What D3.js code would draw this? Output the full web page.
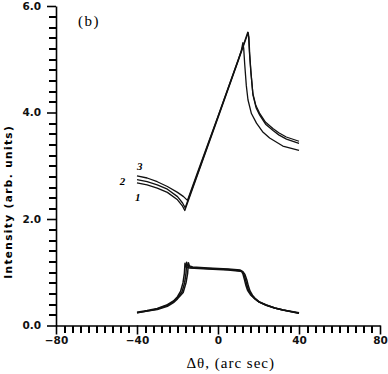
<!DOCTYPE html>
<html>
<head>
<meta charset="utf-8">
<script src="https://cdn.jsdelivr.net/npm/d3@7"></script>
<style>
  body { margin: 0; background: #fff; }
  svg { display: block; }
</style>
</head>
<body>
<div id="chart"></div>
<script>
// datos (b)
const xTicks = [-80, -40, 0, 40, 80];
const yTicks = [0, 2, 4, 6];
const xMinor = [-76, -72, -68, -64, -60, -56, -52, -48, -44, -36, -32, -28, -24, -20, -16, -12, -8, -4,
  4, 8, 12, 16, 20, 24, 28, 32, 36, 44, 48, 52, 56, 60, 64, 68, 72, 76];
const yMinor = [0.2, 0.4, 0.6, 0.8, 1.0, 1.2, 1.4, 1.6, 1.8, 2.2, 2.4, 2.6, 2.8, 3.0, 3.2, 3.4, 3.6, 3.8,
  4.2, 4.4, 4.6, 4.8, 5.0, 5.2, 5.4, 5.6, 5.8];

// curvas de arriba (1, 2, 3)
const top1X = [-40, -35, -30, -25, -20, -17.5, -16.4, -10, 0, 10, 14.9, 15.3, 15.65, 16.3, 17.3, 18.8, 20.6, 23.5, 27.2, 30, 33.8, 40];
const top1Y = [2.68, 2.64, 2.58, 2.50, 2.36, 2.24, 2.16, 2.84, 3.90, 4.97, 5.50, 5.40, 5.10, 4.74, 4.32, 4.09, 3.95, 3.78, 3.66, 3.58, 3.50, 3.42];
const top2X = [-40, -35, -30, -25, -20, -17.5, -16.2, -10, 0, 10, 14.7, 15.1, 15.5, 16.2, 17.2, 18.7, 20.5, 23.4, 27.1, 30, 33.7, 40];
const top2Y = [2.74, 2.70, 2.64, 2.56, 2.42, 2.30, 2.21, 2.86, 3.92, 4.99, 5.51, 5.42, 5.14, 4.78, 4.36, 4.13, 3.99, 3.82, 3.70, 3.62, 3.54, 3.46];
const top3X = [-40, -35, -30, -25, -20, -17, -15.1, -10, 0, 10, 11.5, 12.3, 12.7, 13.2, 14, 14.8, 16.5, 19, 22, 25.5, 32, 40];
const top3Y = [2.81, 2.77, 2.70, 2.61, 2.50, 2.42, 2.35, 2.89, 3.93, 4.99, 5.16, 5.31, 5.20, 4.90, 4.50, 4.24, 3.98, 3.80, 3.64, 3.52, 3.37, 3.29];

// curvas de abajo
const lowAX = [-40, -35, -30, -25, -22, -20, -18.5, -17.3, -16.6, -16.3, -15.8, -14, -5, 5, 11, 12.3, 13.3, 14.2, 15, 15.8, 17, 18.3, 20.5, 23.9, 28, 32.1, 40];
const lowAY = [0.25, 0.28, 0.32, 0.39, 0.46, 0.54, 0.64, 0.80, 0.98, 1.17, 1.10, 1.08, 1.06, 1.04, 1.02, 1.01, 0.96, 0.86, 0.74, 0.65, 0.57, 0.51, 0.44, 0.38, 0.33, 0.29, 0.23];
const lowBX = [-40, -35, -30, -25, -22, -20, -17.8, -16.5, -15.8, -15.5, -15.0, -13.5, -5, 5, 11, 11.9, 12.8, 13.6, 14.4, 15.2, 16.5, 18, 20.3, 23.8, 28, 32.1, 40];
const lowBY = [0.24, 0.27, 0.31, 0.38, 0.45, 0.52, 0.63, 0.80, 0.98, 1.19, 1.12, 1.09, 1.07, 1.05, 1.03, 1.02, 0.96, 0.86, 0.74, 0.65, 0.57, 0.51, 0.44, 0.38, 0.33, 0.29, 0.23];
const lowCX = [-40, -35, -30, -25, -22, -20, -17.2, -15.8, -15.0, -14.6, -14.1, -12.5, -5, 5, 11, 11.5, 12.3, 13.0, 13.8, 14.6, 16.0, 17.6, 20, 23.6, 28, 32.1, 40];
const lowCY = [0.24, 0.27, 0.30, 0.36, 0.43, 0.50, 0.62, 0.80, 0.98, 1.18, 1.12, 1.10, 1.08, 1.06, 1.04, 1.03, 0.97, 0.87, 0.75, 0.66, 0.58, 0.52, 0.45, 0.39, 0.33, 0.29, 0.24];

const curveLabels = ["1", "2", "3"];
const labelX = [-39.6, -47.2, -38.7];
const labelY = [2.33, 2.64, 2.92];

const WidthCaja = 388, HeightCaja = 374;
const margin = { top: 6, right: 8, bottom: 48.5, left: 56 };
const width = WidthCaja - margin.left - margin.right,
  height = HeightCaja - margin.top - margin.bottom;

const svg = d3.select("#chart").append("svg")
  .attr("width", WidthCaja)
  .attr("height", HeightCaja)
  .append("g")
  .attr("transform", "translate(" + margin.left + "," + margin.top + ")");

const x = d3.scaleLinear().domain([-80, 80]).range([0, width]);
const y = d3.scaleLinear().domain([0, 6]).range([height, 0]);

const fmt = d3.format(".1f");
svg.append("g")
  .attr("class", "mayor")
  .attr("transform", "translate(0," + height + ")")
  .call(d3.axisBottom(x).tickValues(xTicks).tickSize(9).tickSizeOuter(0).tickPadding(2));
svg.append("g")
  .attr("class", "mayor")
  .call(d3.axisLeft(y).tickValues(yTicks).tickSize(9).tickSizeOuter(0).tickPadding(6).tickFormat(fmt));

svg.selectAll(".mayor .tick line").attr("stroke", "#000").attr("stroke-width", 1.6);
svg.selectAll(".mayor .domain").attr("stroke", "#000").attr("stroke-width", 1.6);
svg.selectAll(".mayor .tick text")
  .attr("fill", "#111")
  .style("font-family", "'DejaVu Sans', sans-serif")
  .style("font-weight", "bold")
  .style("font-size", "10.5px");

// ticks menores encima de todo
svg.append("g")
  .attr("class", "menor")
  .attr("transform", "translate(0," + height + ")")
  .call(d3.axisBottom(x).tickValues(xMinor).tickSize(7).tickSizeOuter(0).tickFormat(() => ""))
  .call(g => g.select(".domain").remove())
  .selectAll("line")
  .attr("stroke", "#000")
  .attr("stroke-width", 2)
  .attr("shape-rendering", "crispEdges");
svg.append("g")
  .attr("class", "menor")
  .call(d3.axisLeft(y).tickValues(yMinor).tickSize(7).tickSizeOuter(0).tickFormat(() => ""))
  .call(g => g.select(".domain").remove())
  .selectAll("line")
  .attr("stroke", "#000")
  .attr("stroke-width", 2)
  .attr("shape-rendering", "crispEdges");

// lineas
const line = d3.line()
  .x(d => x(d[0]))
  .y(d => y(d[1]));

const series = [
  [top1X, top1Y, 1.3], [top2X, top2Y, 1.3], [top3X, top3Y, 1.3],
  [lowAX, lowAY, 1.5], [lowBX, lowBY, 1.5], [lowCX, lowCY, 1.5]
];

svg.selectAll("path.curva")
  .data(series)
  .enter()
  .append("path")
  .attr("class", "curva")
  .attr("fill", "none")
  .attr("stroke", "#111")
  .attr("stroke-width", s => s[2])
  .attr("stroke-linejoin", "round")
  .attr("d", s => line(s[0].map((v, i) => [v, s[1][i]])));

// etiquetas 1 2 3
svg.selectAll("text.num")
  .data(curveLabels)
  .enter()
  .append("text")
  .attr("class", "num")
  .attr("x", (d, i) => x(labelX[i]))
  .attr("y", (d, i) => y(labelY[i]))
  .attr("text-anchor", "middle")
  .style("font-family", "'Liberation Serif', serif")
  .style("font-style", "italic")
  .style("font-weight", "bold")
  .style("font-size", "11px")
  .text(d => d);

svg.append("text")
  .attr("x", 22)
  .attr("y", 20)
  .style("font-family", "'Liberation Serif', serif")
  .style("font-size", "15px")
  .style("letter-spacing", "1.5px")
  .text("(b)");

svg.append("text")
  .attr("x", x(6.3))
  .attr("y", height + 42)
  .attr("text-anchor", "middle")
  .style("font-family", "'Liberation Serif', serif")
  .style("font-size", "15px")
  .style("letter-spacing", "1px")
  .text("Δθ, (arc sec)");

svg.append("text")
  .attr("transform", "translate(" + (-44) + "," + y(2.323) + ")rotate(-90)")
  .attr("text-anchor", "middle")
  .style("font-family", "'DejaVu Sans', sans-serif")
  .style("font-weight", "bold")
  .style("font-size", "10.5px")
  .style("letter-spacing", "1.4px")
  .text("Intensity (arb. units)");
</script>
</body>
</html>
